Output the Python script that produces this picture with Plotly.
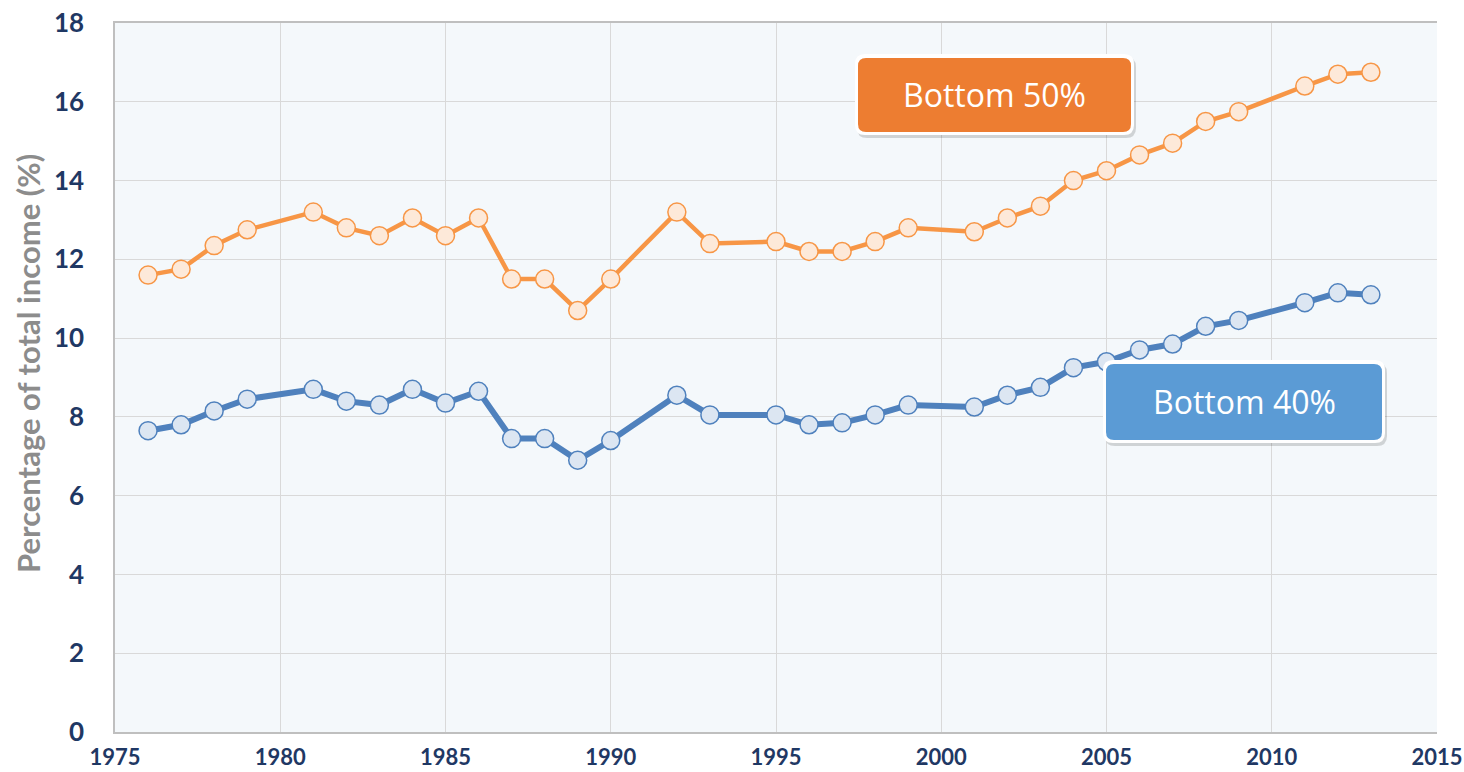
import plotly.graph_objects as go

years = [1976, 1977, 1978, 1979, 1981, 1982, 1983, 1984, 1985, 1986, 1987, 1988, 1989, 1990,
         1992, 1993, 1995, 1996, 1997, 1998, 1999, 2001, 2002, 2003, 2004, 2005, 2006, 2007,
         2008, 2009, 2011, 2012, 2013]
bottom50 = [11.6, 11.75, 12.35, 12.75, 13.2, 12.8, 12.6, 13.05, 12.6, 13.05, 11.5, 11.5, 10.7, 11.5,
            13.2, 12.4, 12.45, 12.2, 12.2, 12.45, 12.8, 12.7, 13.05, 13.35, 14.0, 14.25, 14.65, 14.95,
            15.5, 15.75, 16.4, 16.7, 16.75]
bottom40 = [7.65, 7.8, 8.15, 8.45, 8.7, 8.4, 8.3, 8.7, 8.35, 8.65, 7.45, 7.45, 6.9, 7.4,
            8.55, 8.05, 8.05, 7.8, 7.85, 8.05, 8.3, 8.25, 8.55, 8.75, 9.25, 9.4, 9.7, 9.85,
            10.3, 10.45, 10.9, 11.15, 11.1]
x_ticks = [1975, 1980, 1985, 1990, 1995, 2000, 2005, 2010, 2015]
y_ticks = [0, 2, 4, 6, 8, 10, 12, 14, 16, 18]
y_title = "Percentage of total income (%)"

W, H = 1464, 772
# desired plot area in screen pixels (body margin removed via post_script)
PL, PR, PT, PB = 115, 1437, 23, 732
ML, MT = PL, PT
MR = W - PR
MB = H - PB
PW, PH = PR - PL, PB - PT

fig = go.Figure()
fig.add_trace(go.Scatter(
    x=years, y=bottom50, mode="lines+markers", name="Bottom 50%",
    line=dict(color="#F79646", width=4.5),
    marker=dict(size=18, color="#FDE9D9", line=dict(color="#F79646", width=1.5)),
))
fig.add_trace(go.Scatter(
    x=years, y=bottom40, mode="lines+markers", name="Bottom 40%",
    line=dict(color="#4F81BD", width=6),
    marker=dict(size=18, color="#DCE6F2", line=dict(color="#4F81BD", width=1.5)),
))


def px2paper(x, y):
    return (x - PL) / PW, (PB - y) / PH


def rounded_path(x0, y0, x1, y1, r):
    rx, ry = r / PW, r / PH
    a0, b0 = px2paper(x0, y1)
    a1, b1 = px2paper(x1, y0)
    return (f"M {a0+rx},{b0} L {a1-rx},{b0} Q {a1},{b0} {a1},{b0+ry} "
            f"L {a1},{b1-ry} Q {a1},{b1} {a1-rx},{b1} L {a0+rx},{b1} "
            f"Q {a0},{b1} {a0},{b1-ry} L {a0},{b0+ry} Q {a0},{b0} {a0+rx},{b0} Z")


shapes = []
annos = []


def add_box(x0, y0, x1, y1, fill, text):
    shapes.append(dict(type="path", xref="paper", yref="paper",
                       path=rounded_path(x0 + 2, y0 + 3, x1 + 2, y1 + 3, 10),
                       fillcolor="rgba(0,0,0,0.15)", line=dict(width=0), layer="above"))
    shapes.append(dict(type="path", xref="paper", yref="paper",
                       path=rounded_path(x0, y0, x1, y1, 10),
                       fillcolor="white", line=dict(width=0), layer="above"))
    shapes.append(dict(type="path", xref="paper", yref="paper",
                       path=rounded_path(x0 + 3, y0 + 4, x1 - 3, y1 - 3, 8),
                       fillcolor=fill, line=dict(width=0), layer="above"))
    cx, cy = px2paper((x0 + x1) / 2, (y0 + y1) / 2)
    annos.append(dict(x=cx, y=cy, xref="paper", yref="paper", text=text, showarrow=False,
                      font=dict(family="Open Sans, Lato, sans-serif", size=32, color="white"),
                      xanchor="center", yanchor="middle"))


add_box(855, 54, 1134, 135, "#ED7D31", "Bottom 50%")
add_box(1103, 360, 1385, 443, "#5B9BD5", "Bottom 40%")

# y-axis title as rotated annotation
tx, ty = px2paper(28, 364)
annos.append(dict(x=tx, y=ty, xref="paper", yref="paper", text=y_title, showarrow=False,
                  textangle=-90, xanchor="center", yanchor="middle",
                  font=dict(family="Lato, sans-serif", size=31, color="#8C8C8C", weight="bold")))

fig.update_layout(
    width=W, height=H,
    margin=dict(l=ML, r=MR, t=MT, b=MB, autoexpand=False),
    paper_bgcolor="white", plot_bgcolor="#F4F8FB",
    showlegend=False,
    shapes=shapes, annotations=annos,
    font=dict(family="Lato, Open Sans, sans-serif"),
)
fig.update_xaxes(
    range=[1975, 2015], tickvals=x_ticks, ticktext=[str(t) for t in x_ticks],
    showgrid=True, gridcolor="#D9D9D9", gridwidth=1,
    showline=True, linecolor="#BFBFBF", linewidth=1.5, mirror=True,
    zeroline=False, ticks="", automargin=False, ticklabeloverflow="allow",
    ticklabelstandoff=5,
    tickfont=dict(family="Lato, sans-serif", size=22, color="#1F3864", weight="bold"),
)
fig.update_yaxes(
    range=[0, 18], tickvals=y_ticks,
    showgrid=True, gridcolor="#D9D9D9", gridwidth=1,
    showline=True, linecolor="#BFBFBF", linewidth=1.5,
    zeroline=False, ticks="", ticklabelstandoff=24, automargin=False, ticklabeloverflow="allow",
    tickfont=dict(family="Lato, sans-serif", size=26, color="#1F3864", weight="bold"),
)

fig.write_html("out.html", config={"displayModeBar": False},
               post_script="document.body.style.margin='0';")
